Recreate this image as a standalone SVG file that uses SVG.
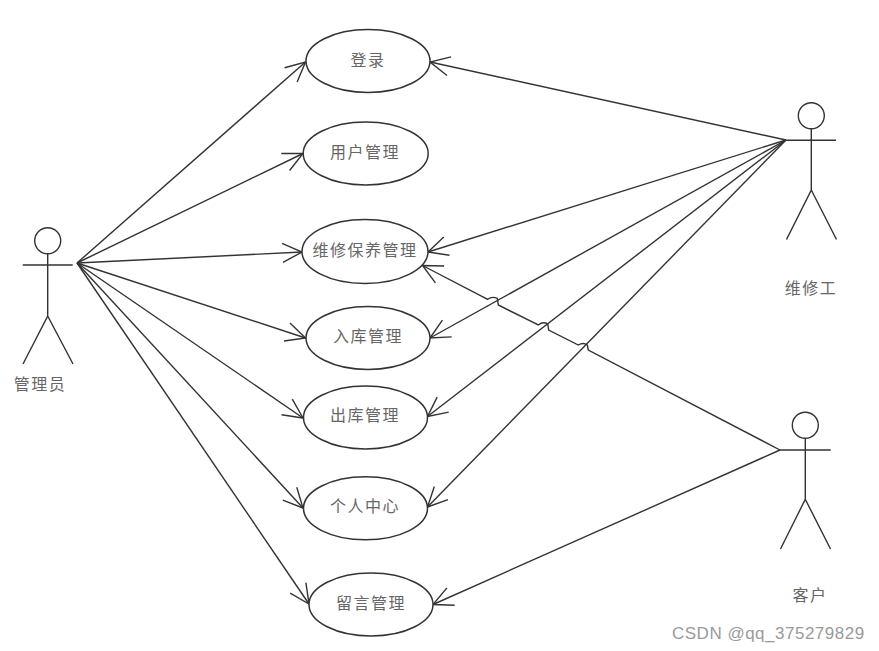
<svg xmlns="http://www.w3.org/2000/svg" width="879" height="651" viewBox="0 0 879 651">
<defs>
<style>
.s{fill:none;stroke:#333;stroke-width:1.4}
.e{fill:#fff;stroke:#333;stroke-width:1.5}
.t{font-family:"Noto Sans CJK SC","Liberation Serif",serif;font-size:16px;fill:#666;text-anchor:middle;letter-spacing:1.5px;font-weight:400}
</style>
<marker id="a" markerUnits="userSpaceOnUse" markerWidth="30" markerHeight="30" refX="24" refY="12" orient="auto" overflow="visible">
<path d="M4.500,2.500 L24,12 L4.500,21.500" fill="none" stroke="#333" stroke-width="1.4"/>
</marker>
</defs>
<rect width="879" height="651" fill="#fff"/>
<g id="connectors" class="s">
<path class="s" marker-end="url(#a)" d="M77,263 L305.500,62"/>
<path class="s" marker-end="url(#a)" d="M77,263 L303,153.500"/>
<path class="s" marker-end="url(#a)" d="M77,263 L302,252"/>
<path class="s" marker-end="url(#a)" d="M77,263 L305.500,338"/>
<path class="s" marker-end="url(#a)" d="M77,263 L303,418"/>
<path class="s" marker-end="url(#a)" d="M77,263 L303,508"/>
<path class="s" marker-end="url(#a)" d="M77,263 L309,604"/>
<path class="s" marker-end="url(#a)" d="M786,140 L430,62"/>
<path class="s" marker-end="url(#a)" d="M786,140 L428,252"/>
<path class="s" marker-end="url(#a)" d="M786,140 L430,338"/>
<path class="s" marker-end="url(#a)" d="M786,140 L427.500,416.500"/>
<path class="s" marker-end="url(#a)" d="M786,140 L427.500,507"/>
<path class="s" marker-end="url(#a)" d="M780,450 L588.300,350 L587.300,345 Q583.300,342 578.300,345 L548.700,330 L547.700,324 Q543.300,321 538.300,325 L498.300,305 L497.300,298.300 Q491.700,296 487.700,299.300 L422.500,265.500"/>
<path class="s" marker-end="url(#a)" d="M780,450 L433,604.500"/>
</g>
<g id="uc-login"><ellipse class="e" cx="368" cy="61" rx="62" ry="31.500"/><text class="t" x="368" y="66">登录</text></g>
<g id="uc-user"><ellipse class="e" cx="365.700" cy="153.500" rx="62.500" ry="31.500"/><text class="t" x="365" y="158">用户管理</text></g>
<g id="uc-repair"><ellipse class="e" cx="365" cy="251.500" rx="63" ry="32"/><text class="t" x="365" y="256">维修保养管理</text></g>
<g id="uc-in"><ellipse class="e" cx="368" cy="338" rx="62" ry="31.500"/><text class="t" x="368" y="342">入库管理</text></g>
<g id="uc-out"><ellipse class="e" cx="365.500" cy="417.500" rx="62" ry="31.500"/><text class="t" x="365" y="421">出库管理</text></g>
<g id="uc-center"><ellipse class="e" cx="365.500" cy="508.300" rx="62" ry="31.500"/><text class="t" x="365" y="512">个人中心</text></g>
<g id="uc-message"><ellipse class="e" cx="371" cy="604.500" rx="62" ry="31.500"/><text class="t" x="371" y="609">留言管理</text></g>
<g id="actor-admin"><circle class="s" cx="47.700" cy="240.700" r="13"/><path class="s" d="M22.700,265H72.700M47.700,254V316L23,364M47.700,316L73,364"/><text class="t" x="40" y="390">管理员</text></g>
<g id="actor-repair"><circle class="s" cx="811.300" cy="115.700" r="13"/><path class="s" d="M786,140.300H836M811.300,129V190L786.500,239.500M811.300,190L836.500,239.500"/><text class="t" x="811" y="294">维修工</text></g>
<g id="actor-customer"><circle class="s" cx="805.300" cy="425.300" r="13"/><path class="s" d="M780,450H830.700M805.300,438.500V499.300L780.500,549M805.300,499.300L830.500,549"/><text class="t" x="810" y="601">客户</text></g>
<text x="672" y="639" font-family="Liberation Sans,Arial,sans-serif" font-size="17" letter-spacing="0.5" fill="#9a9a9a">CSDN @qq_375279829</text>
</svg>
